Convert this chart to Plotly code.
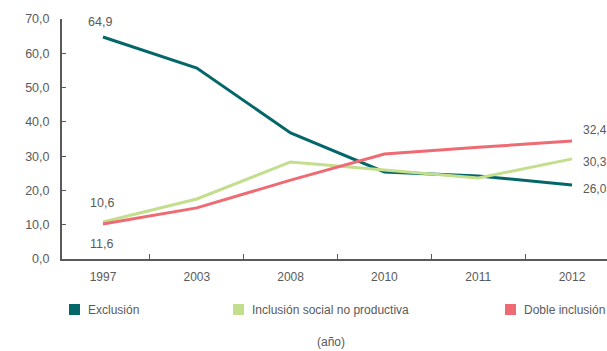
import plotly.graph_objects as go

years = ["1997", "2003", "2008", "2010", "2011", "2012"]
series_names = ["Exclusión", "Inclusión social no productiva", "Doble inclusión"]
exclusion = [64.75, 55.7, 36.75, 25.4, 24.2, 21.6]
inclusion_social = [10.8, 17.5, 28.3, 26.0, 23.6, 29.2]
doble_inclusion = [10.2, 14.9, 23.0, 30.6, 32.6, 34.4]
colors = ["#03676a", "#c3de8d", "#ef6b73"]
y_ticks = [0, 10, 20, 30, 40, 50, 60, 70]
x_title = "(año)"

FONT = "Liberation Sans Narrow, Liberation Sans, Arial, sans-serif"
GRAY = "#5a5a5a"
FS = 12

W, H = 607, 351
L, R, T, B = 62, 0, 19, 92
PW, PH = W - L - R, H - T - B


def px2paper(px, py):
    return (px - L) / PW, (H - B - py) / PH


fig = go.Figure()
all_series = [exclusion, inclusion_social, doble_inclusion]
for name, vals, col in zip(series_names, all_series, colors):
    fig.add_trace(go.Scatter(x=years, y=vals, mode="lines", name=name,
                             line=dict(color=col, width=3), showlegend=False,
                             hoverinfo="skip"))

annotations = []
# point labels (x given as category index)
point_labels = [
    ("64,9", 0, 0, -3, 15, "center", 12.5),
    ("10,6", 1, 0, -1, 19, "center", 12.5),
    ("11,6", 2, 0, -1, -20, "center", 12.5),
    ("32,4", 2, 5, 9, 11, "left", 12),
    ("30,3", 1, 5, 9, -3, "left", 12),
    ("26,0", 0, 5, 9, -4, "left", 12),
]
for txt, si, xi, xs, ys, anc, fs in point_labels:
    annotations.append(dict(x=xi, y=all_series[si][xi], xref="x", yref="y",
                            text=txt, showarrow=False, xanchor=anc, yanchor="middle",
                            xshift=xs, yshift=ys,
                            font=dict(family=FONT, size=fs, color=GRAY)))

# legend
legend_pos = [69, 233, 505]
shapes = []
for name, col, lx in zip(series_names, colors, legend_pos):
    x0, y0 = px2paper(lx, 304)
    x1, y1 = px2paper(lx + 11, 315)
    shapes.append(dict(type="rect", xref="paper", yref="paper", x0=x0, x1=x1,
                       y0=y1, y1=y0, fillcolor=col, line=dict(width=0)))
    tx, ty = px2paper(lx + 17, 310)
    annotations.append(dict(x=tx, y=ty, xref="paper", yref="paper", text=name,
                            showarrow=False, xanchor="left", yanchor="middle",
                            font=dict(family=FONT, size=FS, color=GRAY)))

tx, ty = px2paper(331, 342)
annotations.append(dict(x=tx, y=ty, xref="paper", yref="paper", text=x_title,
                        showarrow=False, xanchor="center", yanchor="middle",
                        font=dict(family=FONT, size=FS, color=GRAY)))

fig.update_layout(
    width=W, height=H,
    margin=dict(l=L, r=R, t=T, b=B, pad=0),
    paper_bgcolor="white", plot_bgcolor="white",
    separators=",.",
    font=dict(family=FONT, size=FS, color=GRAY),
    annotations=annotations, shapes=shapes,
    showlegend=False,
)
fig.update_xaxes(type="category", categoryorder="array", categoryarray=years,
                 range=[-0.437, 5.373], showgrid=False, zeroline=False,
                 showline=True, linecolor=GRAY, linewidth=1.5,
                 ticks="inside", tickson="boundaries", ticklen=5, tickcolor=GRAY,
                 tickwidth=1.2, ticklabelstandoff=6,
                 tickfont=dict(family=FONT, size=FS, color=GRAY))
fig.update_yaxes(range=[0, 70], tickvals=y_ticks, tickformat=".1f",
                 showgrid=False, zeroline=False, showline=True, linecolor=GRAY,
                 linewidth=2, ticks="inside", ticklen=4, tickcolor=GRAY,
                 tickwidth=1.2, ticklabelstandoff=8,
                 tickfont=dict(family=FONT, size=12.5, color=GRAY))

fig.write_html("out.html")
